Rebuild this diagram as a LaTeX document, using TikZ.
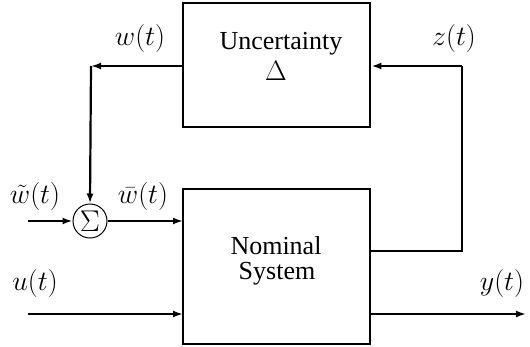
\RequirePackage{fix-cm}
\documentclass[tikz,border=0pt]{standalone}
\usepackage{fontspec}
\setmainfont{Liberation Serif}
\usetikzlibrary{arrows.meta}
\tikzset{
  block/.style={draw, line width=2.8pt, inner sep=0pt},
  sig/.style={line width=2.2pt, -{Latex[length=10pt,width=7pt]}},
  wire/.style={line width=2.2pt},
  lbl/.style={inner sep=0pt, font=\fontsize{28}{33}\selectfont},
  txt/.style={inner sep=0pt, font=\fontsize{26}{31}\selectfont},
  sumnode/.style={draw, circle, line width=1pt, minimum size=34pt, inner sep=0pt, font=\fontsize{30}{35}\selectfont}
}
\begin{document}
\begin{tikzpicture}[x=1pt,y=-1pt]
\useasboundingbox (0,0) rectangle (530,347);
% blocks
\node[block, minimum width=187pt, minimum height=124pt] (unc) at (276.5,65) {};
\node[block, minimum width=187pt, minimum height=155pt] (nom) at (276.5,266.5) {};
\node[txt] (unct) at (281,44) {Uncertainty};
\node[lbl] (delta) at (276,71) {$\Delta$};
\node[txt] (nomt) at (276,246) {Nominal};
\node[txt] (syst) at (277,274) {System};
% summing junction
\node[sumnode] (sum) at (90,221) {$\Sigma$};
% coordinates
\coordinate (wc) at (91,66);
\coordinate (zt) at (462,66);
\coordinate (zb) at (462,251);
\coordinate (zs) at (370,251);
\coordinate (win) at (28,221);
\coordinate (uin) at (28,314);
\coordinate (nin) at (183,314);
\coordinate (nw) at (183,221);
\coordinate (yo) at (370,314);
\coordinate (yout) at (526,314);
% connectors
\draw[sig] (unc.west |- wc) -- (wc);
\draw[sig] (wc) -- (sum.north);
\draw[wire] (zs) -- (zb) -- (zt);
\draw[sig] (zt) -- (unc.east |- zt);
\draw[sig] (win) -- (sum.west);
\draw[sig] (sum.east) -- (nw);
\draw[sig] (uin) -- (nin);
\draw[sig] (yo) -- (yout);
% labels
\node[lbl] (lw) at (140,39) {$w(t)$};
\node[lbl] (lz) at (454,39) {$z(t)$};
\node[lbl] (lwt) at (35,197) {$\tilde{w}(t)$};
\node[lbl] (lwb) at (143,197) {$\bar{w}(t)$};
\node[lbl] (lu) at (35,284) {$u(t)$};
\node[lbl] (ly) at (502,284) {$y(t)$};
\end{tikzpicture}
\end{document}
